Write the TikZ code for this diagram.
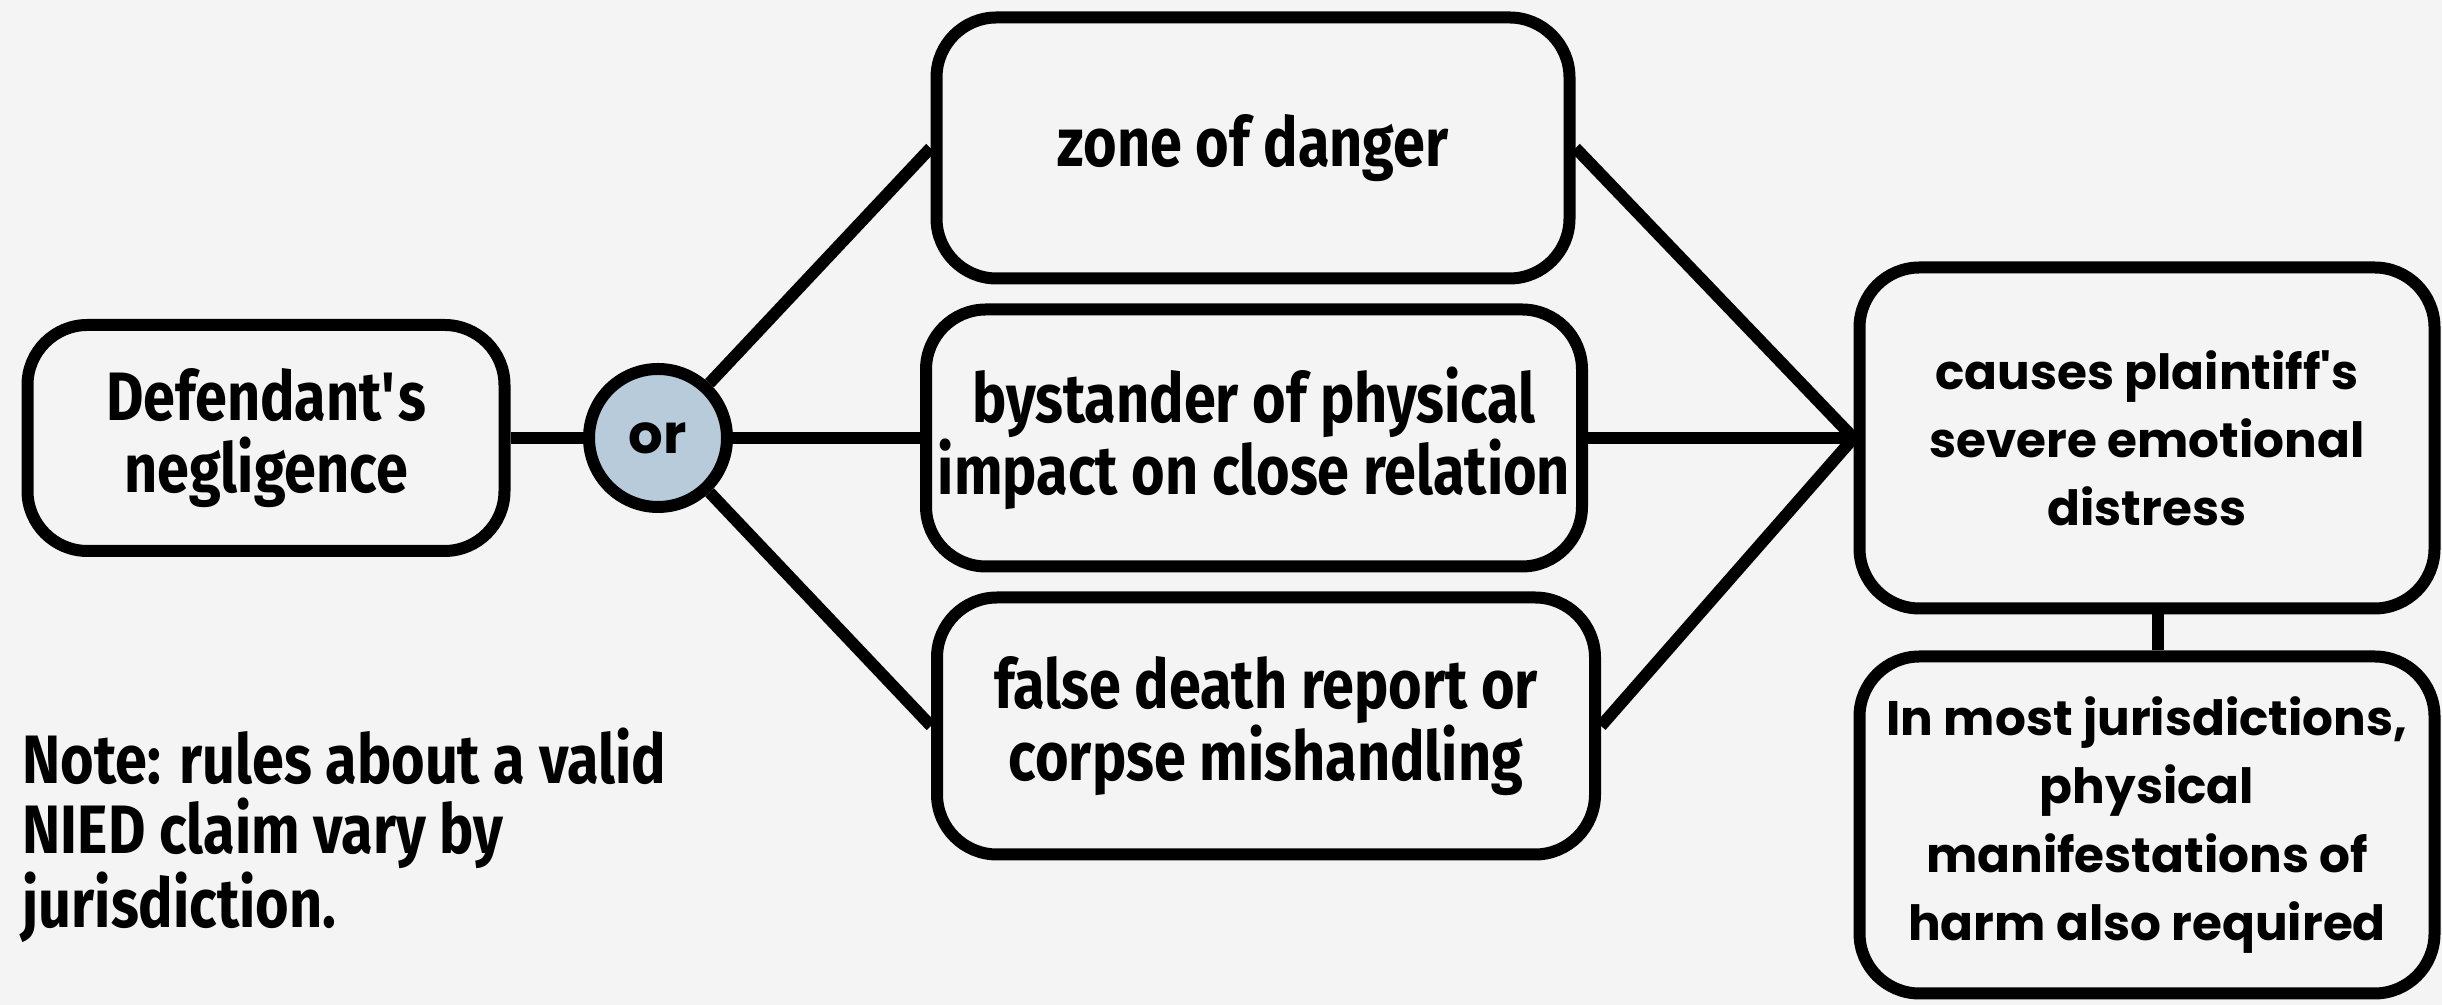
\documentclass[tikz,border=0pt]{standalone}
\usepackage{fontspec}
\setmainfont{Fira Sans}[FakeStretch=0.84]
\newfontfamily\popfont{Poppins}
\definecolor{bg}{HTML}{F4F4F4}
\definecolor{orblue}{HTML}{B7CBDA}
\begin{document}
\begin{tikzpicture}[
  box/.style={draw=black, line width=0.12cm, rounded corners=0.6cm, fill=bg, align=center, inner sep=0pt,
    font=\fontsize{19.5}{20.5}\selectfont\bfseries},
  pbox/.style={box, font=\popfont\fontsize{13.8}{19.4}\selectfont\bfseries},
  orcirc/.style={circle, draw=black, line width=0.12cm, fill=orblue, minimum size=1.38cm, inner sep=0pt,
    font=\popfont\fontsize{15.5}{16}\selectfont\bfseries},
  link/.style={draw=black, line width=0.12cm},
  note/.style={align=left, inner sep=0pt, font=\fontsize{19.5}{20}\selectfont\bfseries}
]
\fill[bg] (0,0) rectangle (24.42,10.05);
\useasboundingbox (0,0) rectangle (24.42,10.05);

\node[box, minimum width=4.77cm, minimum height=2.26cm] (def) at (2.66,5.67) {Defendant\textquotesingle s\\negligence};
\node[orcirc] (or) at (6.58,5.67) {or};
\node[box, minimum width=6.33cm, minimum height=2.61cm] (zone) at (12.53,8.57) {zone of danger};
\node[box, minimum width=6.56cm, minimum height=2.57cm] (bys) at (12.54,5.67) {bystander of physical\\impact on close relation};
\node[box, minimum width=6.58cm, minimum height=2.57cm] (false) at (12.66,2.79) {false death report or\\corpse mishandling};
\node[pbox, minimum width=5.75cm, minimum height=3.41cm] (cause) at (21.47,5.67) {causes plaintiff\textquotesingle s\\severe emotional\\distress};
\node[pbox, minimum width=5.75cm, minimum height=3.37cm] (most) at (21.47,1.80) {In most jurisdictions,\\physical\\manifestations of\\harm also required};
\node[note, anchor=north west] (nt) at (0.22,2.78) {Note: rules about a valid\\NIED claim vary by\\jurisdiction.};

\draw[link] (def) -- (or);
\draw[link] (or) -- (zone.west);
\draw[link] (or) -- (bys.west);
\draw[link] (or) -- (false.west);
\draw[link] (zone.east) -- (cause.west);
\draw[link] (bys.east) -- (cause.west);
\draw[link] (false.east) -- (cause.west);
\draw[link] (cause.south -| 21.58,0) -- (most.north -| 21.58,0);
\end{tikzpicture}
\end{document}
